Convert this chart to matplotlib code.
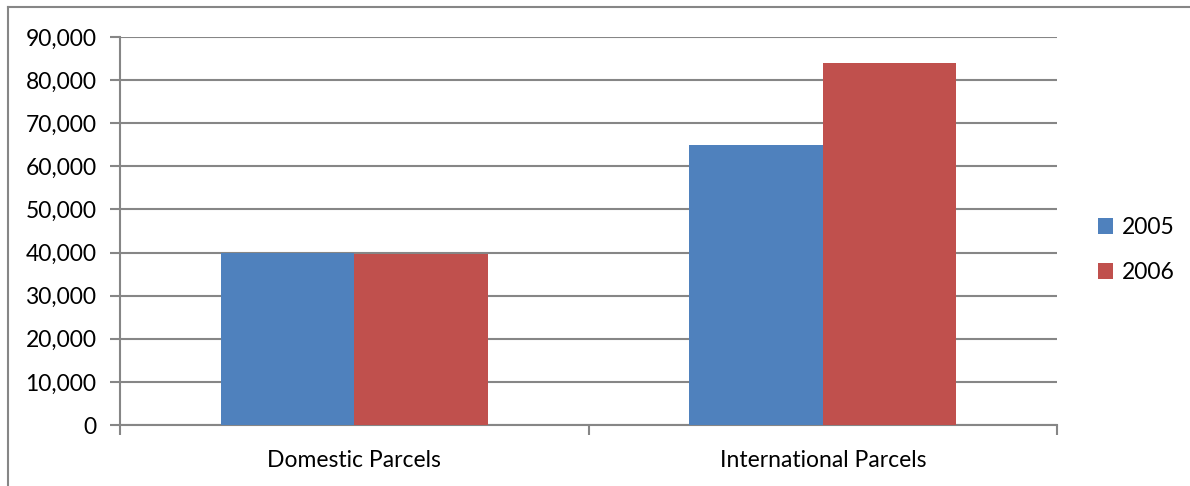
import matplotlib
import matplotlib.pyplot as plt
from matplotlib.ticker import FuncFormatter

matplotlib.use('Agg')

categories = ["Domestic Parcels", "International Parcels"]
years = ["2005", "2006"]
values_2005 = [40000, 65000]
values_2006 = [39700, 84000]
y_ticks = [0, 10000, 20000, 30000, 40000, 50000, 60000, 70000, 80000, 90000]

colors = {"2005": "#4F81BD", "2006": "#C0504D"}
grey = "#868686"

plt.rcParams['font.family'] = ['Lato', 'DejaVu Sans']

fig = plt.figure(figsize=(11.9, 4.86), dpi=100)
# axes area in pixels: x 120..1057, y 37..425
ax = fig.add_axes([120 / 1190, 1 - 425 / 486, (1057 - 120) / 1190, (425 - 37) / 486])

width = 0.285
xs = list(range(len(categories)))
ax.bar([x - width / 2 for x in xs], values_2005, width, color=colors["2005"], label=years[0], zorder=3)
ax.bar([x + width / 2 for x in xs], values_2006, width, color=colors["2006"], label=years[1], zorder=3)

ax.set_xlim(-0.5, len(categories) - 0.5)
ax.set_ylim(0, 90000)
ax.set_yticks(y_ticks)
ax.yaxis.set_major_formatter(FuncFormatter(lambda v, p: f"{int(v):,}"))
ax.grid(axis='y', color=grey, linewidth=1.5, zorder=0)

ax.set_xticks([x - 0.5 for x in xs] + [len(categories) - 0.5])
ax.set_xticklabels([])
ax.set_xticks(xs, minor=True)
ax.set_xticklabels(categories, minor=True, fontsize=16.5)
ax.tick_params(axis='x', which='minor', length=0, pad=18)
ax.tick_params(axis='x', which='major', length=7, width=1.5, color=grey, direction='out')
ax.tick_params(axis='y', length=7, width=1.5, color=grey, labelsize=16.5, pad=10)

for side in ['top', 'right']:
    ax.spines[side].set_visible(False)
for side in ['left', 'bottom']:
    ax.spines[side].set_color(grey)
    ax.spines[side].set_linewidth(1.5)

leg = fig.legend(loc='center left', bbox_to_anchor=(1077 / 1190, 1 - 250 / 486),
                 frameon=False, fontsize=16.5, handlelength=0.65, handleheight=0.65,
                 handletextpad=0.4, labelspacing=1.05)

# chart border (cropped: only left and top visible)
fig.add_artist(plt.Line2D([8 / 1190, 8 / 1190], [0, 1 - 7.5 / 486], color=grey, linewidth=1.5,
                          transform=fig.transFigure))
fig.add_artist(plt.Line2D([8 / 1190, 1], [1 - 7.5 / 486, 1 - 7.5 / 486], color=grey, linewidth=1.5,
                          transform=fig.transFigure))

fig.savefig('out.png', dpi=100)
